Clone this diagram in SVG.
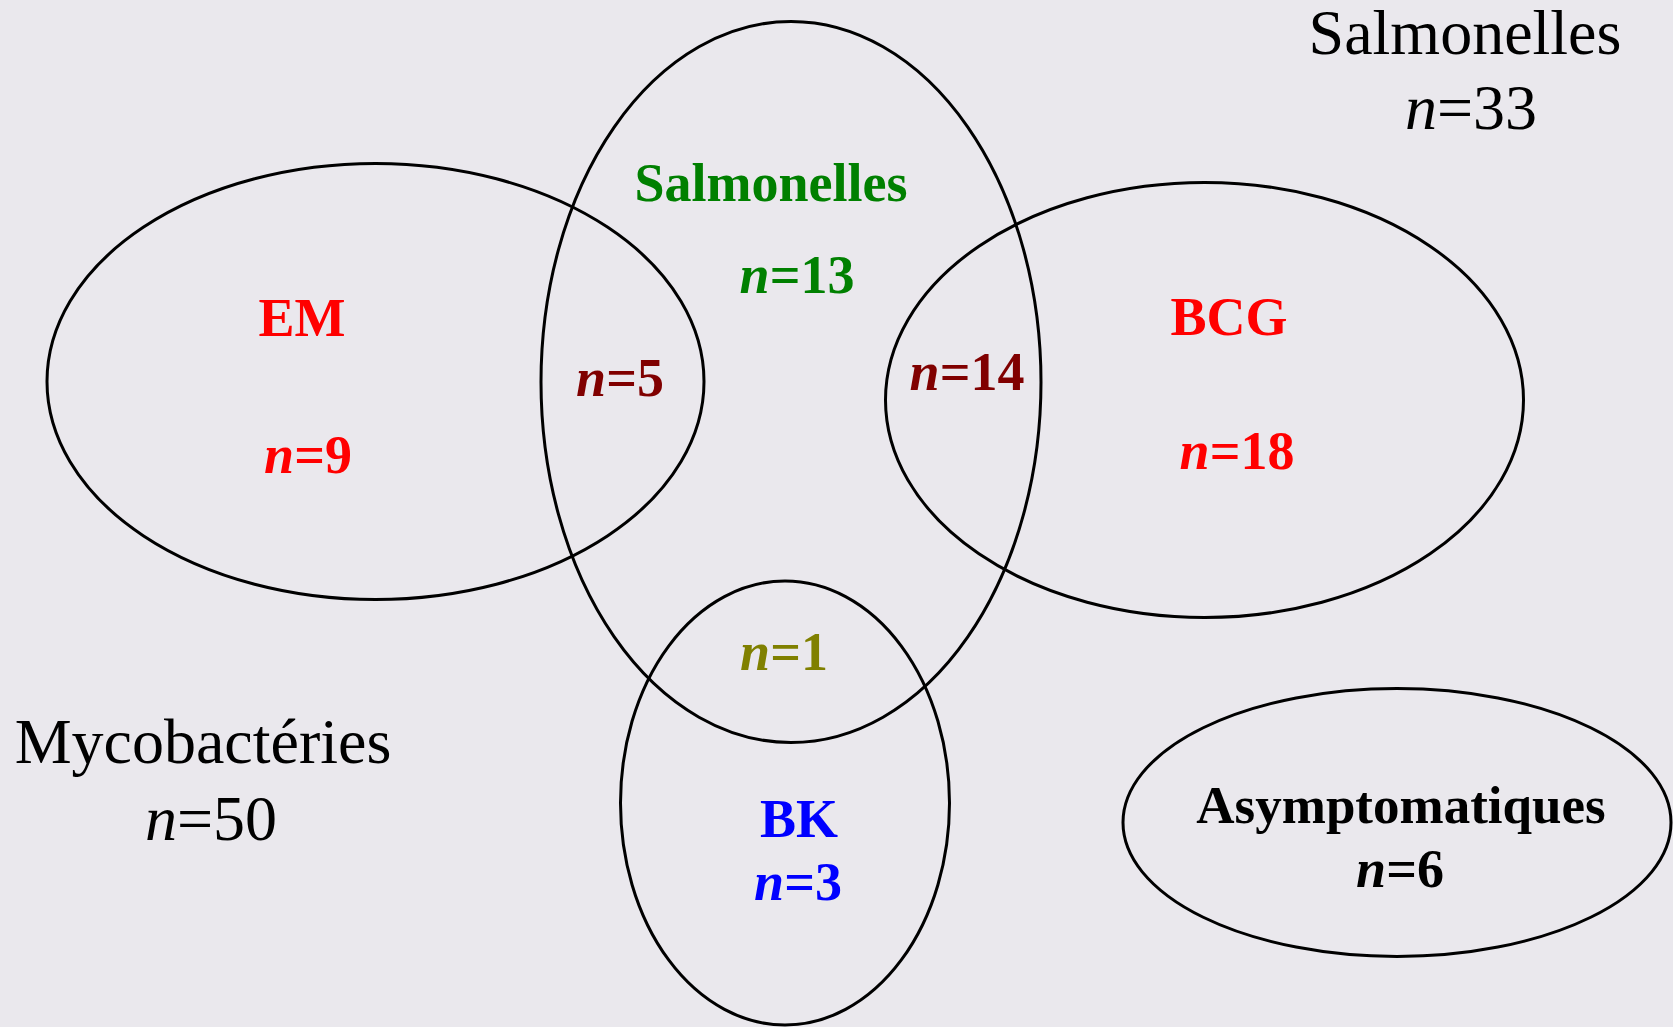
<svg xmlns="http://www.w3.org/2000/svg" width="1673" height="1027" viewBox="0 0 1673 1027">
<style>
.bg{fill:#eae8ed}
.set{fill:none;stroke:#000;stroke-width:3}
text{font-family:"Liberation Serif","Times New Roman",serif;text-anchor:middle}
.big{font-size:64px;fill:#000}
.lbl{font-size:54px;font-weight:bold}
.asy{font-size:53px}
.it{font-style:italic}
.red{fill:#ff0000}
.dred{fill:#800000}
.green{fill:#008000}
.olive{fill:#808000}
.blue{fill:#0000ff}
.black{fill:#000}
</style>
<rect class="bg" x="0" y="0" width="1673" height="1027"/>
<g id="set-em">
<ellipse class="set" cx="375.5" cy="381.5" rx="328.5" ry="218"/>
<text class="lbl red" x="302" y="336">EM</text>
<text class="lbl red" x="308" y="473"><tspan class="it">n</tspan>=9</text>
</g>
<g id="set-salmonelles">
<ellipse class="set" cx="791" cy="382" rx="250" ry="360.5"/>
<text class="lbl green" x="771" y="201">Salmonelles</text>
<text class="lbl green" x="797" y="293"><tspan class="it">n</tspan>=13</text>
</g>
<g id="set-bcg">
<ellipse class="set" cx="1204.5" cy="400" rx="319" ry="217.5"/>
<text class="lbl red" x="1229" y="335">BCG</text>
<text class="lbl red" x="1237" y="469"><tspan class="it">n</tspan>=18</text>
</g>
<g id="set-bk">
<ellipse class="set" cx="785" cy="803" rx="164.5" ry="222"/>
<text class="lbl blue" x="799" y="837">BK</text>
<text class="lbl blue" x="798" y="900"><tspan class="it">n</tspan>=3</text>
</g>
<g id="set-asymptomatiques">
<ellipse class="set" cx="1397" cy="822.5" rx="274" ry="134"/>
<text class="lbl asy black" x="1401" y="823">Asymptomatiques</text>
<text class="lbl black" x="1400" y="887"><tspan class="it">n</tspan>=6</text>
</g>
<g id="intersections">
<text class="lbl dred" x="620" y="396"><tspan class="it">n</tspan>=5</text>
<text class="lbl dred" x="967" y="390"><tspan class="it">n</tspan>=14</text>
<text class="lbl olive" x="784" y="670"><tspan class="it">n</tspan>=1</text>
</g>
<g id="total-salmonelles">
<text class="big" x="1465" y="54">Salmonelles</text>
<text class="big" x="1471" y="129"><tspan class="it">n</tspan>=33</text>
</g>
<g id="total-mycobacteries">
<text class="big" x="203" y="763">Mycobactéries</text>
<text class="big" x="211" y="840"><tspan class="it">n</tspan>=50</text>
</g>
<g id="connectors"></g>
</svg>
